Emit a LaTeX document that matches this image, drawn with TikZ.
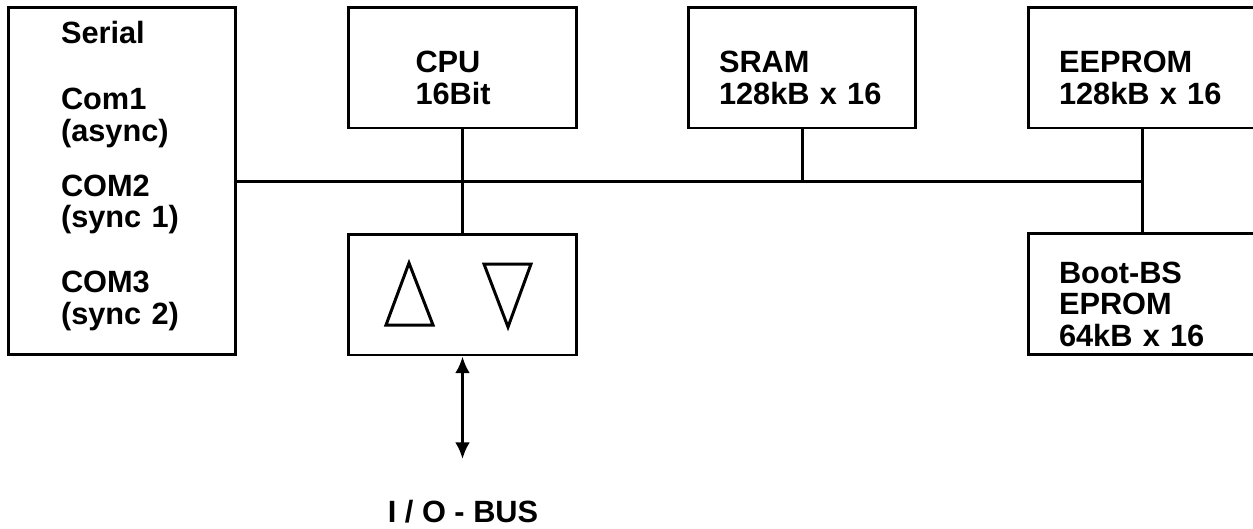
\documentclass[tikz,border=0pt]{standalone}
\usepackage{fontspec}
\setmainfont{Liberation Sans}
\usetikzlibrary{arrows.meta, positioning, calc}
\newcommand{\padtop}{\rule{0pt}{24pt}}
\newcommand{\padbot}{\rule[-9.6pt]{0pt}{9.6pt}}

\begin{document}
\begin{tikzpicture}[
        x=0.02cm, y=-0.02cm, >={Latex[length=9.5pt, width=8.5pt]}, line width=1.7pt,
        font=\bfseries\fontsize{17.5}{18}\selectfont,
        block/.style={draw, rectangle, minimum width=4.56cm, minimum height=2.42cm, align=left},
        tri/.style={draw, line join=miter}
    ]
    \useasboundingbox (0,0) rectangle (1253,528);
    \node[block, minimum height=6.96cm, inner xsep=1.06cm, text width=2.44cm] (serial) at (122,181)
        {Serial\\[20pt]Com1\\(async)\\[13pt]COM2\\(sync 1)\\[19pt]COM3\\(sync 2)\padbot};
    \node[block, inner xsep=1.34cm, text width=1.88cm] (cpu) at (462.5,67.5) {\padtop CPU\\16Bit};
    \node[block, inner xsep=0.62cm, text width=3.32cm] (sram) at (802,67.5) {\padtop SRAM\\128kB x 16};
    \node[block, inner xsep=0.62cm, text width=3.32cm] (eeprom) at (1142,67.5) {\padtop EEPROM\\128kB x 16};
    \node[block, inner xsep=0.62cm, text width=3.32cm] (boot) at (1142,294) {\padtop Boot-BS\\EPROM\\64kB x 16};
    \node[block] (iobox) at (462.5,294.5) {};
    \coordinate (busport) at (462.5,459);
    \node[anchor=base] (iobus) at (463,522) {I / O - BUS};

    \draw (serial.east) -- (serial.east -| eeprom.south);
    \draw (cpu) -- (iobox);
    \draw (sram.south) -- (sram.south |- serial.east);
    \draw (eeprom) -- (boot);
    \draw[<->] (iobox) -- (busport);

    \draw[tri] (409,263) -- (433,325) -- (386,325) -- cycle;
    \draw[tri] (484,264) -- (531,264) -- (508,327) -- cycle;
\end{tikzpicture}
\end{document}
